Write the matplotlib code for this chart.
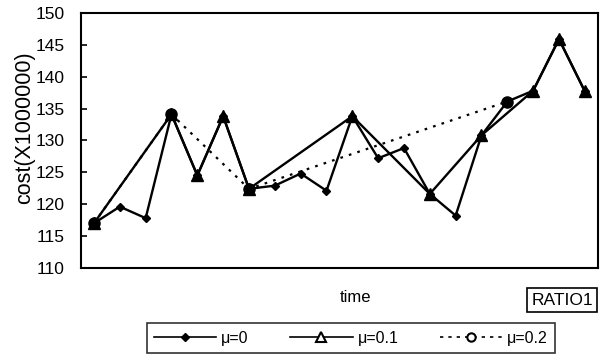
import matplotlib
matplotlib.use('Agg')
import matplotlib.pyplot as plt
from matplotlib.lines import Line2D

plt.rcParams['font.family'] = ['Liberation Sans', 'DejaVu Sans']

# category positions (time steps) and costs
t_mu0 = list(range(20))
cost_mu0 = [117, 119.6, 117.8, 134.1, 124.5, 133.8, 122.4, 122.9, 124.8, 122.1,
            133.8, 127.2, 128.8, 121.6, 118.2, 130.8, 136.1, 137.8, 145.9, 137.7]

t_mu01 = [0, 3, 4, 5, 6, 10, 13, 15, 17, 18, 19]
cost_mu01 = [117, 134.1, 124.5, 133.8, 122.4, 133.8, 121.6, 130.8, 137.8, 145.9, 137.7]

t_mu02 = [0, 3, 6, 16]
cost_mu02 = [117, 134.1, 122.4, 136.1]

y_ticks = [110, 115, 120, 125, 130, 135, 140, 145, 150]
labels = ['\u03bc=0', '\u03bc=0.1', '\u03bc=0.2']

fig = plt.figure(figsize=(6.05, 3.6), dpi=100)
ax = fig.add_axes([0.134, 0.256, 0.854, 0.708])

ax.plot(t_mu02, cost_mu02, color='black', lw=1.6, ls=(0, (1.2, 2.8)),
        marker='o', ms=8, mfc='black', mec='black')
ax.plot(t_mu01, cost_mu01, color='black', lw=1.7,
        marker='^', ms=8, mfc='black', mec='black')
ax.plot(t_mu0, cost_mu0, color='black', lw=1.7,
        marker='D', ms=4.5, mfc='black', mec='black')

ax.set_xlim(-0.5, 19.5)
ax.set_ylim(110, 150)
ax.set_yticks(y_ticks)
ax.set_xticks([])
ax.tick_params(axis='y', direction='in', length=4, width=1.2, labelsize=12.5, pad=12)
for s in ax.spines.values():
    s.set_linewidth(1.5)
    s.set_color('black')

fig.text(0.041, 0.645, 'cost(X1000000)', rotation=90, ha='center', va='center', fontsize=15.5)
fig.text(0.587, 0.175, 'time', ha='center', va='center', fontsize=12)
fig.text(0.929, 0.166, 'RATIO1', ha='center', va='center', fontsize=12.5,
         bbox=dict(boxstyle='square,pad=0.25', fc='white', ec='black', lw=1.2))

handles = [
    Line2D([], [], color='black', lw=1.2, marker='D', ms=4, mfc='black', mec='black'),
    Line2D([], [], color='black', lw=1.2, marker='^', ms=7, mfc='white', mec='black', mew=1.5),
    Line2D([], [], color='black', lw=1.2, ls=(0, (2, 3)), marker='o', ms=6, mfc='white', mec='black', mew=1.5),
]
leg = fig.legend(handles, labels, loc='center', bbox_to_anchor=(0.58, 0.061), ncol=3,
                 fontsize=11.5, frameon=True, fancybox=False, edgecolor='black',
                 handlelength=3.9, columnspacing=2.6, handletextpad=0.3,
                 borderpad=0.45, borderaxespad=0)
leg.get_frame().set_linewidth(1.2)

fig.savefig('out.png', dpi=100)
